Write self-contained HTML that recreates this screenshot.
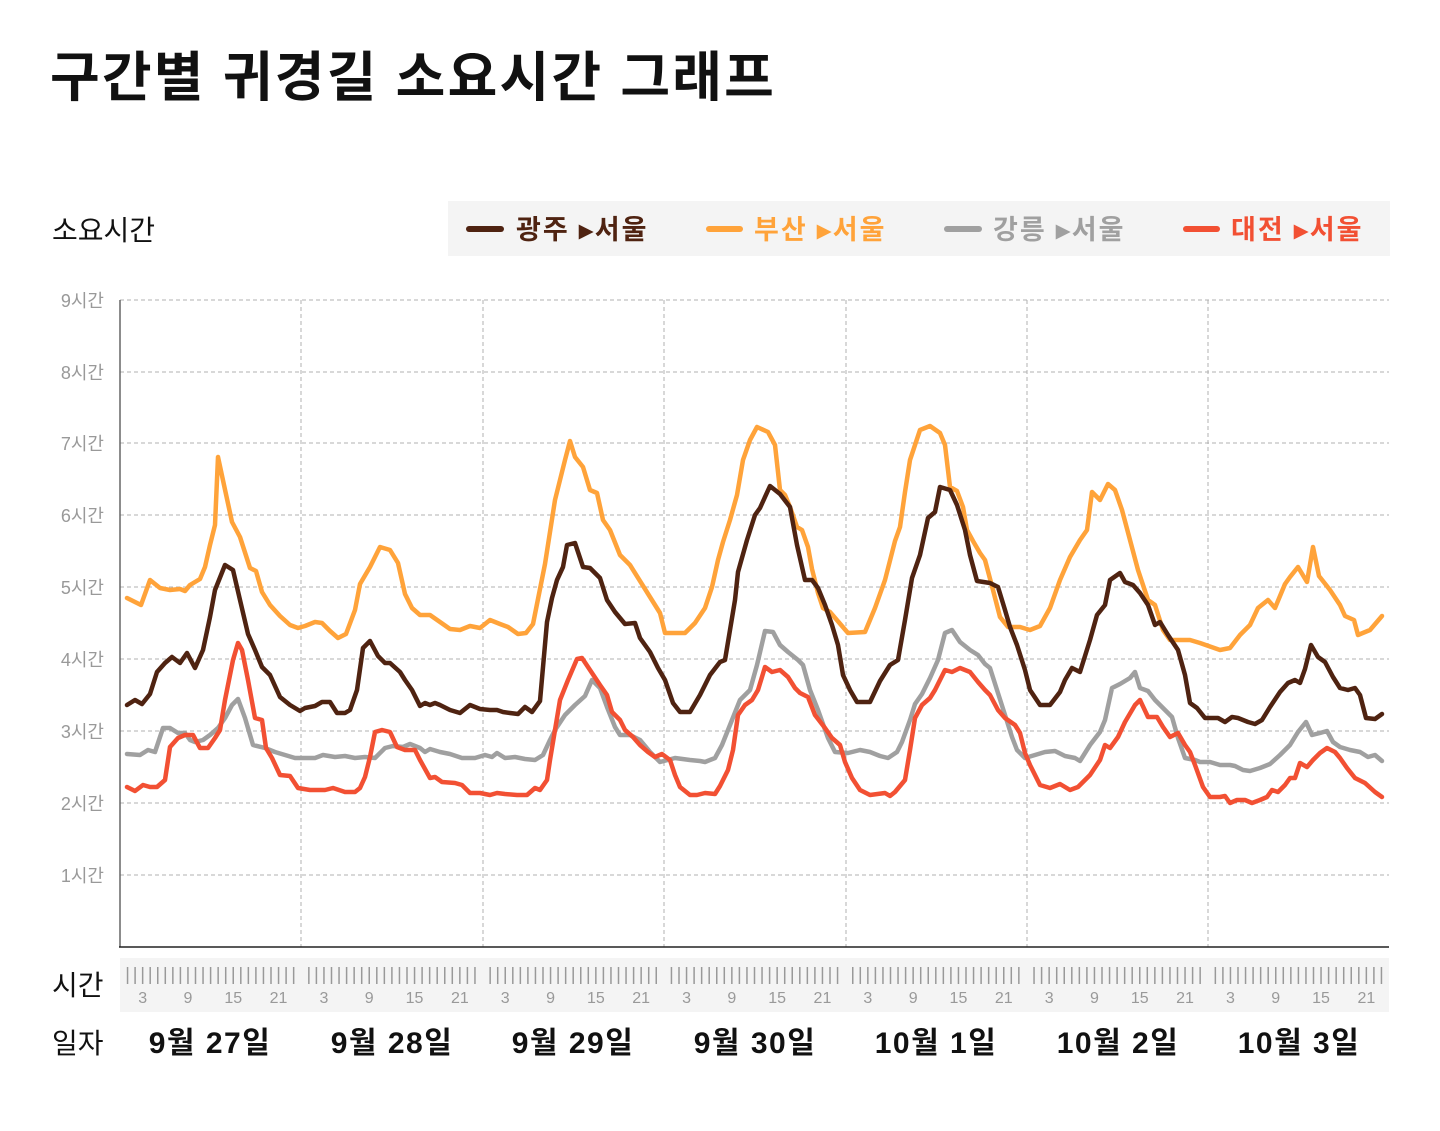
<!DOCTYPE html>
<html><head><meta charset="utf-8"><style>
body{margin:0;background:#fff;width:1440px;height:1126px;overflow:hidden;font-family:"Liberation Sans","Noto Sans CJK KR",sans-serif}
</style></head><body>
<svg width="1440" height="1126" xmlns="http://www.w3.org/2000/svg" font-family="Liberation Sans, Noto Sans CJK KR, sans-serif">
<text x="50" y="96" font-size="54" font-weight="bold" fill="#111" letter-spacing="2.2">구간별 귀경길 소요시간 그래프</text>
<text x="52" y="240" font-size="28" fill="#111">소요시간</text>
<rect x="448" y="201" width="942" height="55" fill="#f4f4f4"/>
<g font-size="27" font-weight="bold" letter-spacing="2">
<line x1="469" y1="229" x2="501" y2="229" stroke="#4f2311" stroke-width="6" stroke-linecap="round"/>
<text x="516" y="239" fill="#4f2311">광주 ▸서울</text>
<line x1="709" y1="229" x2="740" y2="229" stroke="#ffa33a" stroke-width="6" stroke-linecap="round"/>
<text x="754" y="239" fill="#ffa33a">부산 ▸서울</text>
<line x1="947" y1="229" x2="979" y2="229" stroke="#a0a0a0" stroke-width="6" stroke-linecap="round"/>
<text x="993" y="239" fill="#a0a0a0">강릉 ▸서울</text>
<line x1="1186" y1="229" x2="1217" y2="229" stroke="#f25033" stroke-width="6" stroke-linecap="round"/>
<text x="1231" y="239" fill="#f25033">대전 ▸서울</text>
</g>
<g stroke="#b0b0b0" stroke-width="1" stroke-dasharray="4,3">
<line x1="120" y1="300" x2="1389" y2="300"/><line x1="120" y1="372" x2="1389" y2="372"/><line x1="120" y1="443" x2="1389" y2="443"/><line x1="120" y1="515" x2="1389" y2="515"/><line x1="120" y1="587" x2="1389" y2="587"/><line x1="120" y1="659" x2="1389" y2="659"/><line x1="120" y1="731" x2="1389" y2="731"/><line x1="120" y1="803" x2="1389" y2="803"/><line x1="120" y1="875" x2="1389" y2="875"/>
<line x1="301" y1="300" x2="301" y2="947"/><line x1="483" y1="300" x2="483" y2="947"/><line x1="664" y1="300" x2="664" y2="947"/><line x1="846" y1="300" x2="846" y2="947"/><line x1="1027" y1="300" x2="1027" y2="947"/><line x1="1208" y1="300" x2="1208" y2="947"/>
</g>
<line x1="120" y1="300" x2="120" y2="947" stroke="#666" stroke-width="1.5"/>
<line x1="119" y1="947" x2="1389" y2="947" stroke="#222" stroke-width="1.5"/>
<g font-size="18" fill="#999" text-anchor="end">
<text x="104" y="307">9시간</text><text x="104" y="379">8시간</text><text x="104" y="450">7시간</text><text x="104" y="522">6시간</text><text x="104" y="594">5시간</text><text x="104" y="666">4시간</text><text x="104" y="738">3시간</text><text x="104" y="810">2시간</text><text x="104" y="882">1시간</text>
</g>
<g fill="none" stroke-width="4.5" stroke-linejoin="round" stroke-linecap="round">
<polyline stroke="#ffa33a" points="127,598 141,605 150,580 160,588 170,590 180,589 185,591 190,585 200,579 205,567 210,545 215,525 218,457 224,485 232,522 240,537 250,568 256,571 262,592 270,605 280,616 290,625 298,628 305,626 315,622 322,623 330,631 338,638 346,634 355,610 360,584 370,567 380,547 390,550 398,563 405,594 412,608 420,615 430,615 440,622 450,629 460,630 470,626 480,628 490,620 500,624 508,627 518,634 526,633 533,624 545,564 555,500 565,460 570,441 575,457 583,467 590,490 597,493 603,520 610,530 620,555 630,565 650,597 660,613 665,633 685,633 695,623 705,608 712,587 718,560 723,542 730,520 737,495 743,460 750,440 757,427 768,432 775,445 780,490 785,495 790,507 797,527 802,530 808,547 812,569 818,593 823,608 830,612 848,633 865,632 875,608 885,580 895,541 900,527 905,492 910,460 920,430 930,426 940,433 945,445 950,487 957,491 963,507 967,530 973,541 980,553 985,560 993,590 1000,617 1008,627 1020,627 1030,630 1040,626 1050,608 1060,580 1070,557 1080,540 1087,530 1092,492 1100,500 1108,484 1115,490 1122,510 1130,540 1138,570 1148,600 1155,605 1163,630 1170,640 1190,640 1200,643 1220,650 1230,648 1240,635 1250,625 1258,608 1268,600 1275,608 1285,584 1290,577 1298,567 1307,582 1313,547 1319,576 1330,590 1340,605 1345,616 1354,620 1358,635 1370,630 1382,616"/>
<polyline stroke="#a0a0a0" points="127,754 140,755 148,750 155,752 163,728 170,728 178,733 185,733 190,740 195,742 203,740 210,735 218,728 225,718 232,705 238,699 245,718 253,745 265,748 275,752 285,755 295,758 300,758 315,758 323,755 335,757 345,756 355,758 365,757 375,758 385,748 393,746 403,747 410,744 420,748 425,752 430,749 440,752 450,754 462,758 475,758 485,755 492,757 497,753 505,758 515,757 525,759 535,760 543,755 550,740 555,730 565,715 575,705 585,696 592,680 600,688 607,707 615,727 620,735 630,735 640,740 650,752 660,762 675,758 690,760 700,761 705,762 715,758 722,745 730,725 740,700 750,690 757,665 765,631 773,632 780,645 788,652 798,660 803,665 810,690 818,710 828,738 835,752 848,753 860,750 870,752 880,756 888,758 897,752 902,742 910,720 915,704 922,694 930,678 938,660 945,633 952,630 960,642 970,650 978,655 985,664 990,668 997,690 1005,715 1012,737 1017,750 1025,758 1035,755 1045,752 1055,751 1065,756 1075,758 1080,761 1090,745 1100,732 1105,720 1112,688 1120,684 1130,678 1135,672 1140,688 1148,691 1155,700 1165,710 1172,717 1178,738 1185,758 1195,760 1200,762 1210,762 1220,765 1230,765 1235,766 1243,770 1250,771 1260,768 1270,764 1280,755 1290,745 1298,732 1306,722 1312,735 1320,733 1327,731 1333,742 1340,747 1350,750 1360,752 1368,757 1375,755 1382,761"/>
<polyline stroke="#f25033" points="127,787 135,791 143,785 150,787 157,787 165,780 170,747 178,738 185,735 193,735 200,748 208,748 215,738 220,730 225,700 233,660 238,643 242,650 248,680 255,718 262,720 266,748 272,758 280,775 290,776 298,788 310,790 325,790 333,788 345,792 355,792 360,788 365,777 370,757 375,732 382,730 390,732 397,747 405,750 415,750 420,760 430,778 435,777 442,782 455,783 462,785 470,793 480,793 490,795 497,793 505,794 517,795 527,795 535,788 540,790 547,780 550,760 560,700 568,680 577,659 582,658 590,670 600,685 607,695 612,712 620,720 625,730 633,737 640,745 648,752 655,757 662,754 670,760 675,775 680,787 690,795 697,795 705,793 715,794 720,786 728,770 733,750 738,715 745,705 752,700 758,690 765,667 772,672 780,670 788,677 795,688 800,693 808,697 815,715 825,728 832,738 840,745 845,762 852,778 860,790 870,795 885,793 890,796 895,792 905,780 910,750 915,718 922,705 930,698 935,690 945,670 952,672 960,668 970,672 978,682 985,690 990,695 998,710 1005,718 1015,725 1020,733 1025,753 1030,765 1040,785 1050,788 1060,784 1070,790 1078,787 1090,775 1100,760 1105,745 1110,748 1118,737 1125,722 1135,705 1140,700 1148,717 1157,717 1163,727 1170,737 1178,733 1185,745 1190,752 1195,765 1203,787 1210,797 1220,797 1225,796 1230,803 1237,800 1245,800 1252,803 1260,800 1267,797 1272,790 1278,792 1285,785 1290,778 1295,778 1300,763 1307,767 1313,760 1320,753 1327,748 1335,752 1340,758 1347,768 1355,778 1365,783 1375,792 1382,797"/>
<polyline stroke="#4f2311" points="127,705 135,700 142,704 150,694 157,672 165,663 172,657 180,663 187,653 195,668 203,650 210,617 215,590 225,565 233,570 240,600 248,634 255,650 262,667 270,675 280,697 290,705 300,711 305,708 315,706 322,702 330,702 337,713 345,713 350,710 357,690 363,648 370,641 378,656 385,663 390,663 400,672 405,680 412,690 420,706 425,703 430,705 435,703 440,705 450,710 460,713 470,705 480,709 490,710 497,710 503,712 510,713 518,714 525,707 532,712 540,701 547,622 552,598 557,580 563,567 567,545 575,543 583,567 590,568 600,578 607,600 615,612 625,624 635,623 640,638 650,652 658,668 665,680 673,703 680,712 690,712 700,695 710,675 720,662 725,660 735,600 738,572 747,540 755,515 760,508 770,486 780,494 790,507 797,545 805,580 812,580 818,588 825,605 832,625 838,645 843,675 850,690 857,702 870,702 880,681 890,665 898,660 905,620 912,578 920,555 928,518 935,512 940,487 950,490 957,505 965,530 970,555 977,581 990,583 998,587 1005,610 1010,627 1017,645 1025,670 1030,690 1040,705 1050,705 1060,692 1065,680 1072,668 1080,672 1090,640 1097,615 1105,605 1110,580 1120,573 1125,582 1133,585 1140,593 1148,605 1155,625 1160,622 1168,635 1178,650 1185,675 1190,703 1197,708 1205,718 1218,718 1225,722 1232,717 1238,718 1248,722 1255,724 1262,720 1270,707 1280,692 1288,683 1295,680 1300,683 1305,669 1311,645 1318,657 1325,662 1333,677 1340,688 1348,690 1355,688 1360,695 1366,718 1375,719 1382,714"/>
</g>
<text x="52" y="995" font-size="28" fill="#111">시간</text>
<rect x="120" y="958" width="1269" height="54" fill="#f4f4f4"/>
<g id="ticks" stroke="#999" stroke-width="1.5"></g>
<g id="tl" font-size="16" fill="#999" text-anchor="middle"></g>
<text x="52" y="1053" font-size="28" fill="#111">일자</text>
<g font-size="30" font-weight="bold" fill="#111" text-anchor="middle" letter-spacing="1.5">
<text x="210" y="1053">9월 27일</text><text x="392" y="1053">9월 28일</text><text x="573" y="1053">9월 29일</text><text x="755" y="1053">9월 30일</text><text x="936" y="1053">10월 1일</text><text x="1118" y="1053">10월 2일</text><text x="1299" y="1053">10월 3일</text>
</g>
</svg>
<script>
var ns="http://www.w3.org/2000/svg",t=document.getElementById("ticks"),l=document.getElementById("tl");
for(var d=0;d<7;d++){var x0=120+d*181.3;for(var h=1;h<=23;h++){var x=x0+h*7.55;var e=document.createElementNS(ns,"line");e.setAttribute("x1",x);e.setAttribute("x2",x);e.setAttribute("y1",967);e.setAttribute("y2",984);t.appendChild(e);}
[3,9,15,21].forEach(function(h){var e=document.createElementNS(ns,"text");e.setAttribute("x",x0+h*7.55);e.setAttribute("y",1003);e.textContent=h;l.appendChild(e);});}
</script>
</body></html>
